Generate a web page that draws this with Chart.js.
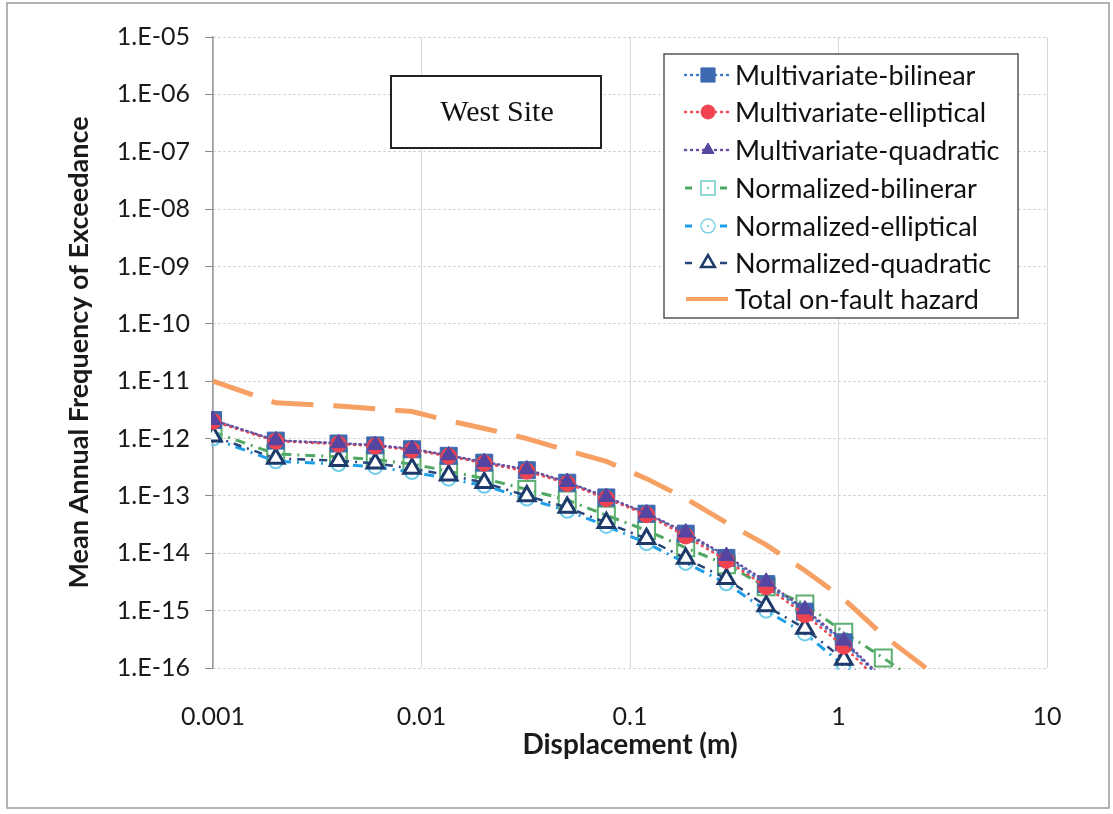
<!DOCTYPE html>
<html>
<head>
<meta charset="utf-8">
<script src="https://cdn.jsdelivr.net/npm/chart.js@4.4.1/dist/chart.umd.min.js"></script>
<style>
html, body { margin: 0; padding: 0; background: #fff; }
#wrap { width: 1113px; height: 814px; position: relative; }
</style>
</head>
<body>
<div id="wrap"><canvas id="c" width="1113" height="814"></canvas></div>
<script>
// displacement (m) sampled by every curve
const displacement = [0.001, 0.002, 0.004, 0.006, 0.009, 0.0135, 0.02, 0.032, 0.05, 0.077, 0.12, 0.185, 0.29, 0.45, 0.69, 1.06, 1.64, 2.54, 3.9];

// mean annual frequency of exceedance
const multiBilinear   = [2.1e-12, 9.2e-13, 8.2e-13, 7.6e-13, 6.5e-13, 5.0e-13, 3.8e-13, 2.8e-13, 1.7e-13, 9.4e-14, 4.9e-14, 2.2e-14, 8.3e-15, 2.9e-15, 9.6e-16, 2.8e-16, 6.0e-17, null, null];
const multiElliptical = [2.0e-12, 9.0e-13, 8.0e-13, 7.4e-13, 6.3e-13, 4.9e-13, 3.7e-13, 2.7e-13, 1.65e-13, 9.0e-14, 4.7e-14, 2.0e-14, 7.5e-15, 2.6e-15, 8.5e-16, 2.4e-16, 5.0e-17, null, null];
const multiQuadratic  = [2.1e-12, 9.3e-13, 8.3e-13, 7.7e-13, 6.6e-13, 5.1e-13, 3.9e-13, 2.9e-13, 1.75e-13, 9.6e-14, 5.0e-14, 2.3e-14, 9.0e-15, 3.2e-15, 1.05e-15, 3.0e-16, 6.5e-17, null, null];
const normBilinear    = [1.3e-12, 5.4e-13, 4.8e-13, 4.3e-13, 3.6e-13, 2.7e-13, 2.0e-13, 1.3e-13, 8.5e-14, 4.6e-14, 2.5e-14, 1.25e-14, 6.3e-15, 2.6e-15, 1.3e-15, 4.2e-16, 1.5e-16, 5.0e-17, null];
const normElliptical  = [1.0e-12, 4.0e-13, 3.6e-13, 3.2e-13, 2.6e-13, 2.0e-13, 1.5e-13, 9.0e-14, 5.5e-14, 3.0e-14, 1.5e-14, 6.8e-15, 3.0e-15, 1.0e-15, 4.0e-16, 1.1e-16, 2.5e-17, null, null];
const normQuadratic   = [1.1e-12, 4.5e-13, 4.1e-13, 3.7e-13, 3.0e-13, 2.3e-13, 1.7e-13, 1.0e-13, 6.3e-14, 3.4e-14, 1.8e-14, 8.1e-15, 3.6e-15, 1.2e-15, 4.9e-16, 1.4e-16, 3.0e-17, null, null];
const totalHazard     = [1.0e-11, 4.2e-12, 3.7e-12, 3.3e-12, 2.95e-12, 2.05e-12, 1.5e-12, 1.0e-12, 6.2e-13, 4.0e-13, 2.0e-13, 9.0e-14, 3.4e-14, 1.4e-14, 5.0e-15, 1.6e-15, 3.7e-16, 1.1e-16, 2.5e-17];

const seriesNames = ['Multivariate-bilinear', 'Multivariate-elliptical', 'Multivariate-quadratic',
  'Normalized-bilinerar', 'Normalized-elliptical', 'Normalized-quadratic', 'Total on-fault hazard'];

// ticks
const xTickValues = [0.001, 0.01, 0.1, 1, 10];
const xTickLabels = ['0.001', '0.01', '0.1', '1', '10'];
const yTickValues = [1e-16, 1e-15, 1e-14, 1e-13, 1e-12, 1e-11, 1e-10, 1e-9, 1e-8, 1e-7, 1e-6, 1e-5];
const yTickLabels = ['1.E-16', '1.E-15', '1.E-14', '1.E-13', '1.E-12', '1.E-11', '1.E-10', '1.E-09', '1.E-08', '1.E-07', '1.E-06', '1.E-05'];

const siteLabel = 'West Site';

const FONT = 'Lato, "Open Sans", sans-serif';

function pts(ys) {
	return displacement.map((x, i) => ({x: x, y: ys[i]}));
}

const datasets = [
	{ label: seriesNames[0], data: pts(multiBilinear), borderColor: '#3f7fc8', borderWidth: 2.5, borderDash: [1, 5], borderCapStyle: 'round',
		pointStyle: 'rect', pointRadius: 12, pointBackgroundColor: '#3d69b0', pointBorderColor: '#3d69b0', pointBorderWidth: 1, order: 2 },
	{ label: seriesNames[1], data: pts(multiElliptical), borderColor: '#ee4b55', borderWidth: 2.5, borderDash: [1, 5], borderCapStyle: 'round',
		pointStyle: 'circle', pointRadius: 8, pointBackgroundColor: '#ef4450', pointBorderColor: '#ef4450', pointBorderWidth: 1, order: 1 },
	{ label: seriesNames[2], data: pts(multiQuadratic), borderColor: '#6a4f9e', borderWidth: 2.5, borderDash: [1, 4], borderCapStyle: 'round',
		pointStyle: 'triangle', pointRadius: 9, pointBackgroundColor: '#5645a0', pointBorderColor: '#5645a0', pointBorderWidth: 1, order: 0 },
	{ label: seriesNames[3], data: pts(normBilinear), borderColor: '#4fa862', borderWidth: 3, borderDash: [10, 6, 2, 6],
		pointStyle: 'rect', pointRadius: 12, pointBackgroundColor: 'rgba(255,255,255,0)', pointBorderColor: '#5cb070', pointBorderWidth: 2, order: 5 },
	{ label: seriesNames[4], data: pts(normElliptical), borderColor: '#1e9ee6', borderWidth: 3, borderDash: [10, 6, 2, 6],
		pointStyle: 'circle', pointRadius: 7, pointBackgroundColor: 'rgba(255,255,255,0)', pointBorderColor: '#6fcdea', pointBorderWidth: 2, order: 4 },
	{ label: seriesNames[5], data: pts(normQuadratic), borderColor: '#27467a', borderWidth: 2.5, borderDash: [8, 6, 2, 6],
		pointStyle: 'triangle', pointRadius: 9.5, pointBackgroundColor: '#ffffff', pointBorderColor: '#1d3a6b', pointBorderWidth: 3, order: 3 },
	{ label: seriesNames[6], data: pts(totalHazard), borderColor: '#f7a064', borderWidth: 5, borderDash: [42, 20],
		pointRadius: 0, order: 6 }
];

// small marker painter used by the legend
function marker(ctx, style, x, y, r, fill, stroke, lw, dot) {
	ctx.save();
	ctx.beginPath();
	if (style === 'rect') {
		const s = r * Math.SQRT1_2;
		ctx.rect(x - s, y - s, 2 * s, 2 * s);
	} else if (style === 'circle') {
		ctx.arc(x, y, r, 0, Math.PI * 2);
	} else if (style === 'triangle') {
		let a = 0;
		for (let k = 0; k < 3; k++) {
			const px = x + Math.sin(a) * r, py = y - Math.cos(a) * r;
			k === 0 ? ctx.moveTo(px, py) : ctx.lineTo(px, py);
			a += Math.PI * 2 / 3;
		}
		ctx.closePath();
	}
	ctx.fillStyle = fill;
	ctx.fill();
	ctx.lineWidth = lw;
	ctx.strokeStyle = stroke;
	ctx.stroke();
	if (dot) {
		ctx.beginPath();
		ctx.arc(x, y, 1.2, 0, Math.PI * 2);
		ctx.fillStyle = stroke;
		ctx.fill();
	}
	ctx.restore();
}

const decor = {
	id: 'decor',
	afterDraw(chart) {
		const ctx = chart.ctx;
		ctx.save();

		// outer frame
		ctx.strokeStyle = '#9a9a9a';
		ctx.lineWidth = 1.5;
		ctx.strokeRect(7, 3, 1102, 805);

		// site label box
		ctx.fillStyle = '#fff';
		ctx.fillRect(391, 76, 210, 72);
		ctx.strokeStyle = '#222';
		ctx.lineWidth = 2;
		ctx.strokeRect(391, 76, 210, 72);
		ctx.fillStyle = '#111';
		ctx.font = '30px "Liberation Serif", "Times New Roman", serif';
		ctx.textAlign = 'center';
		ctx.textBaseline = 'middle';
		ctx.fillText(siteLabel, 497, 113);

		// legend box
		ctx.fillStyle = '#fff';
		ctx.fillRect(664, 54, 354, 264);
		ctx.strokeStyle = '#555';
		ctx.lineWidth = 1.5;
		ctx.strokeRect(664, 54, 354, 264);

		const rows = [75, 112, 150, 188, 226, 263, 299];
		const legMarks = [
			['rect', 10, '#3d69b0', '#3d69b0', 1, false],
			['circle', 7, '#ef4450', '#ef4450', 1, false],
			['triangle', 7, '#5645a0', '#5645a0', 1, false],
			['rect', 10, '#fff', '#6fcbc6', 1.5, true],
			['circle', 7, '#fff', '#7fd4ea', 1.5, true],
			['triangle', 8, '#fff', '#1d3a6b', 2.5, false],
			null
		];
		chart.data.datasets.forEach((ds, i) => {
			const y = rows[i];
			ctx.save();
			ctx.strokeStyle = ds.borderColor;
			ctx.lineWidth = i === 6 ? 4 : ds.borderWidth;
			ctx.lineCap = ds.borderCapStyle || 'butt';
			ctx.setLineDash(i === 6 ? [] : (i < 3 ? [1, 5] : [7, 28]));
			ctx.beginPath();
			ctx.moveTo(i === 6 ? 686 : 685, y);
			ctx.lineTo(i === 6 ? 728 : 730, y);
			ctx.stroke();
			ctx.restore();
			const m = legMarks[i];
			if (m) marker(ctx, m[0], 708, y, m[1], m[2], m[3], m[4], m[5]);
			ctx.fillStyle = '#111';
			ctx.font = '27px ' + FONT;
			ctx.textAlign = 'left';
			ctx.textBaseline = 'middle';
			ctx.fillText(ds.label, 735, y + 1);
		});
		ctx.restore();
	}
};

new Chart(document.getElementById('c'), {
	type: 'line',
	data: { datasets: datasets },
	plugins: [decor],
	options: {
		responsive: false,
		animation: false,
		parsing: true,
		layout: { padding: { left: 0, top: 37, right: 66, bottom: 0 } },
		plugins: { legend: { display: false }, tooltip: { enabled: false } },
		elements: { line: { tension: 0, fill: false } },
		datasets: { line: { clip: 2, spanGaps: false } },
		scales: {
			x: {
				type: 'logarithmic',
				min: 0.001,
				max: 10,
				afterBuildTicks: (scale) => { scale.ticks = xTickValues.map(v => ({value: v})); },
				afterFit: (scale) => { scale.height = 146; },
				ticks: {
					autoSkip: false, maxRotation: 0, padding: 34,
					color: '#1a1a1a', font: { family: FONT, size: 25 },
					callback: (v, i) => xTickLabels[i]
				},
				grid: { color: '#d9d9d9', lineWidth: 1, drawTicks: false },
				border: { display: false },
				title: {
					display: true, text: 'Displacement (m)', color: '#1a1a1a',
					font: { family: FONT, size: 28, weight: 'bold' },
					padding: { top: 0, bottom: 52 }
				}
			},
			y: {
				type: 'logarithmic',
				min: 1e-16,
				max: 1e-5,
				afterBuildTicks: (scale) => { scale.ticks = yTickValues.map(v => ({value: v})); },
				afterFit: (scale) => { scale.width = 213; },
				ticks: {
					autoSkip: false, padding: 15,
					color: '#1a1a1a', font: { family: FONT, size: 25 },
					callback: (v, i) => yTickLabels[i]
				},
				grid: { color: '#c2c2c2', lineWidth: 1, tickLength: 8, tickColor: '#8a8a8a', tickBorderDash: [] },
				border: { display: true, color: '#9a9a9a', width: 1.5, dash: [2, 3] },
				title: {
					display: true, text: 'Mean Annual Frequency of Exceedance', color: '#1a1a1a',
					font: { family: FONT, size: 27, weight: 'bold' },
					padding: { top: 63, bottom: 0 }
				}
			}
		}
	}
});
</script>
</body>
</html>
